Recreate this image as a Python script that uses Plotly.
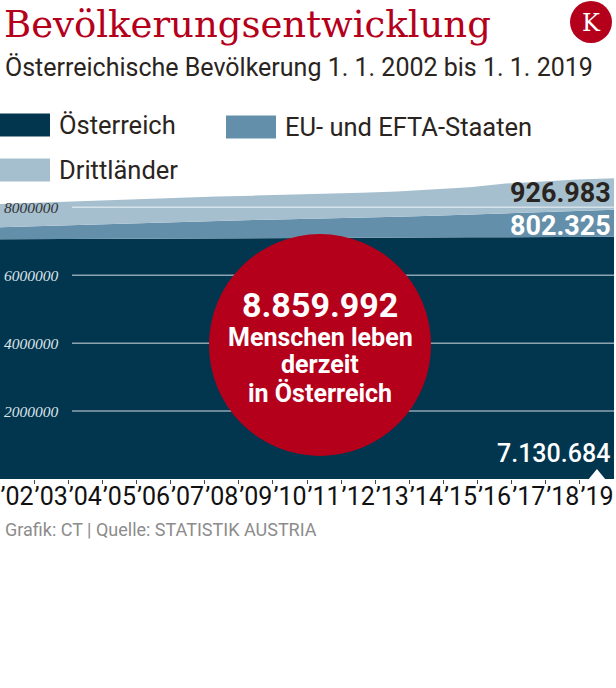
import plotly.graph_objects as go

# ---------------- data ----------------
years = list(range(2002, 2020))
year_labels = ["’%02d" % (y % 100) for y in years]

oesterreich = [7062000, 7068000, 7074000, 7080000, 7086000, 7090000, 7094000, 7098000,
               7101000, 7104000, 7107000, 7110000, 7113000, 7117000, 7121000, 7125000,
               7128000, 7130684]
eu_efta = [350000, 375000, 405000, 440000, 470000, 495000, 515000, 530000, 545000,
           562000, 585000, 612000, 640000, 670000, 705000, 740000, 772000, 802325]
drittlaender = [688000, 697000, 701000, 700000, 704000, 705000, 711000, 717000, 724000,
                734000, 738000, 748000, 767000, 803000, 874000, 905000, 920000, 926983]

series_names = ["Österreich", "EU- und EFTA-Staaten", "Drittländer"]
y_ticks = [2000000, 4000000, 6000000, 8000000]

# ---------------- style ----------------
W, H = 616, 688
M_L, M_R, M_T, M_B = 0, 2, 170, 209
PW, PH = W - M_L - M_R, H - M_T - M_B
C_DARK, C_EU, C_LIGHT = "#02364f", "#648faa", "#a5bfcf"
C_RED = "#b5001b"
C_TEXT = "#2a2420"
Y_MAX = 9.1e6


def px(x):
    return (x - M_L) / PW


def py(y):
    return (M_T + PH - y) / PH


def fmt(v):
    return f"{v:,}".replace(",", ".")


fig = go.Figure()
for name, vals, col in zip(series_names, [oesterreich, eu_efta, drittlaender],
                           [C_DARK, C_EU, C_LIGHT]):
    fig.add_trace(go.Scatter(x=years, y=vals, name=name, stackgroup="one",
                             mode="lines", line=dict(width=0, color=col),
                             fillcolor=col, hoverinfo="skip", showlegend=False))

# dummy trace on the label axis so it is drawn
fig.add_trace(go.Scatter(x=years, y=[None] * len(years), xaxis="x2",
                         showlegend=False, hoverinfo="skip"))

shapes = []
annotations = []

# gridlines (above the areas)
for t in y_ticks:
    shapes.append(dict(type="line", xref="paper", yref="y", x0=px(72), x1=1,
                       y0=t, y1=t, line=dict(color="rgba(255,255,255,0.55)", width=1.5),
                       layer="above"))
    annotations.append(dict(xref="paper", yref="y", x=px(2), y=t, xanchor="left",
                            yanchor="middle", showarrow=False, text="<i>%d</i>" % t,
                            font=dict(family="Liberation Serif", size=15.5, style="italic",
                                      color="#333333" if t == 8000000 else "#dde4ea"),
                            ))

# red circle
shapes.append(dict(type="circle", xref="paper", yref="paper",
                   x0=px(209), x1=px(431), y0=py(456), y1=py(234),
                   fillcolor=C_RED, line=dict(width=0), layer="above"))

total = oesterreich[-1] + eu_efta[-1] + drittlaender[-1]
for txt, yc, sz in [(fmt(total), 305, 34), ("Menschen leben", 337, 25),
                    ("derzeit", 364, 25), ("in Österreich", 393, 25)]:
    annotations.append(dict(xref="paper", yref="paper", x=px(320), y=py(yc),
                            xanchor="center", yanchor="middle", showarrow=False,
                            text="<b>%s</b>" % txt,
                            font=dict(family="Roboto", size=sz, color="white")))

# end value labels
annotations.append(dict(xref="paper", yref="paper", x=px(613), y=py(193),
                        xanchor="right", yanchor="middle", showarrow=False,
                        text="<b>%s</b>" % fmt(drittlaender[-1]),
                        font=dict(family="Roboto", size=27, color=C_TEXT)))
annotations.append(dict(xref="paper", yref="paper", x=px(613), y=py(226),
                        xanchor="right", yanchor="middle", showarrow=False,
                        text="<b>%s</b>" % fmt(eu_efta[-1]),
                        font=dict(family="Roboto", size=27, color="white")))
annotations.append(dict(xref="paper", yref="paper", x=px(612), y=py(453),
                        xanchor="right", yanchor="middle", showarrow=False,
                        text="%s" % fmt(oesterreich[-1]),
                        font=dict(family="Roboto", size=25, weight=500, color="white")))
# pointer triangle under the 2019 value
xl = years[-1]
shapes.append(dict(type="path", xref="x2", yref="paper",
                   path="M %f %f L %f %f L %f %f Z" % (xl - 0.24, py(479), xl, py(469),
                                                       xl + 0.24, py(479)),
                   fillcolor="white", line=dict(width=0), layer="above"))

# title, subtitle, logo
annotations.append(dict(xref="paper", yref="paper", x=px(2), y=py(24), xanchor="left",
                        yanchor="middle", showarrow=False, text="Bevölkerungsentwicklung",
                        font=dict(family="DejaVu Serif", size=37, color=C_RED)))
annotations.append(dict(xref="paper", yref="paper", x=px(3), y=py(68), xanchor="left",
                        yanchor="middle", showarrow=False,
                        text="Österreichische Bevölkerung 1. 1. 2002 bis 1. 1. 2019",
                        font=dict(family="Roboto", size=25, color=C_TEXT)))
shapes.append(dict(type="circle", xref="paper", yref="paper",
                   x0=px(570), x1=px(612), y0=py(43), y1=py(1),
                   fillcolor=C_RED, line=dict(width=0)))
annotations.append(dict(xref="paper", yref="paper", x=px(591), y=py(23), xanchor="center",
                        yanchor="middle", showarrow=False, text="K",
                        font=dict(family="DejaVu Serif", size=24, color="white")))

# legend
legend_items = [(series_names[0], C_DARK, 0, 125), (series_names[1], C_EU, 226, 127),
                (series_names[2], C_LIGHT, 0, 170)]
for name, col, x0, yc in legend_items:
    shapes.append(dict(type="rect", xref="paper", yref="paper",
                       x0=px(x0), x1=px(x0 + 50), y0=py(yc + 11.5), y1=py(yc - 11.5),
                       fillcolor=col, line=dict(width=0)))
    annotations.append(dict(xref="paper", yref="paper", x=px(x0 + 57), y=py(yc),
                            xanchor="left", yanchor="middle", showarrow=False, text=name,
                            font=dict(family="Roboto", size=25.5, color=C_TEXT)))

# source
annotations.append(dict(xref="paper", yref="paper", x=px(3), y=py(529), xanchor="left",
                        yanchor="middle", showarrow=False,
                        text="Grafik: CT | Quelle: STATISTIK AUSTRIA",
                        font=dict(family="Roboto", size=18, color="#8c8c8c")))

fig.update_layout(
    width=W, height=H,
    margin=dict(l=M_L, r=M_R, t=M_T, b=M_B),
    paper_bgcolor="white", plot_bgcolor="white",
    showlegend=False,
    xaxis=dict(range=[years[0], years[-1]], visible=False, fixedrange=True),
    xaxis2=dict(overlaying="x", anchor="y", side="bottom",
                range=[years[0] - 0.5, years[-1] + 0.5],
                tickvals=years, ticktext=year_labels, ticks="", tickangle=0,
                tickfont=dict(family="Roboto", size=25, color="#111111"),
                showgrid=False, zeroline=False, showline=False,
                minor=dict(tickvals=[y + 0.5 for y in years[:-1]], ticks="outside",
                           ticklen=4, tickcolor="#444444", tickwidth=1, showgrid=False)),
    yaxis=dict(range=[0, Y_MAX], visible=False, fixedrange=True),
    shapes=shapes,
    annotations=annotations,
)

fig.write_html("out.html")
